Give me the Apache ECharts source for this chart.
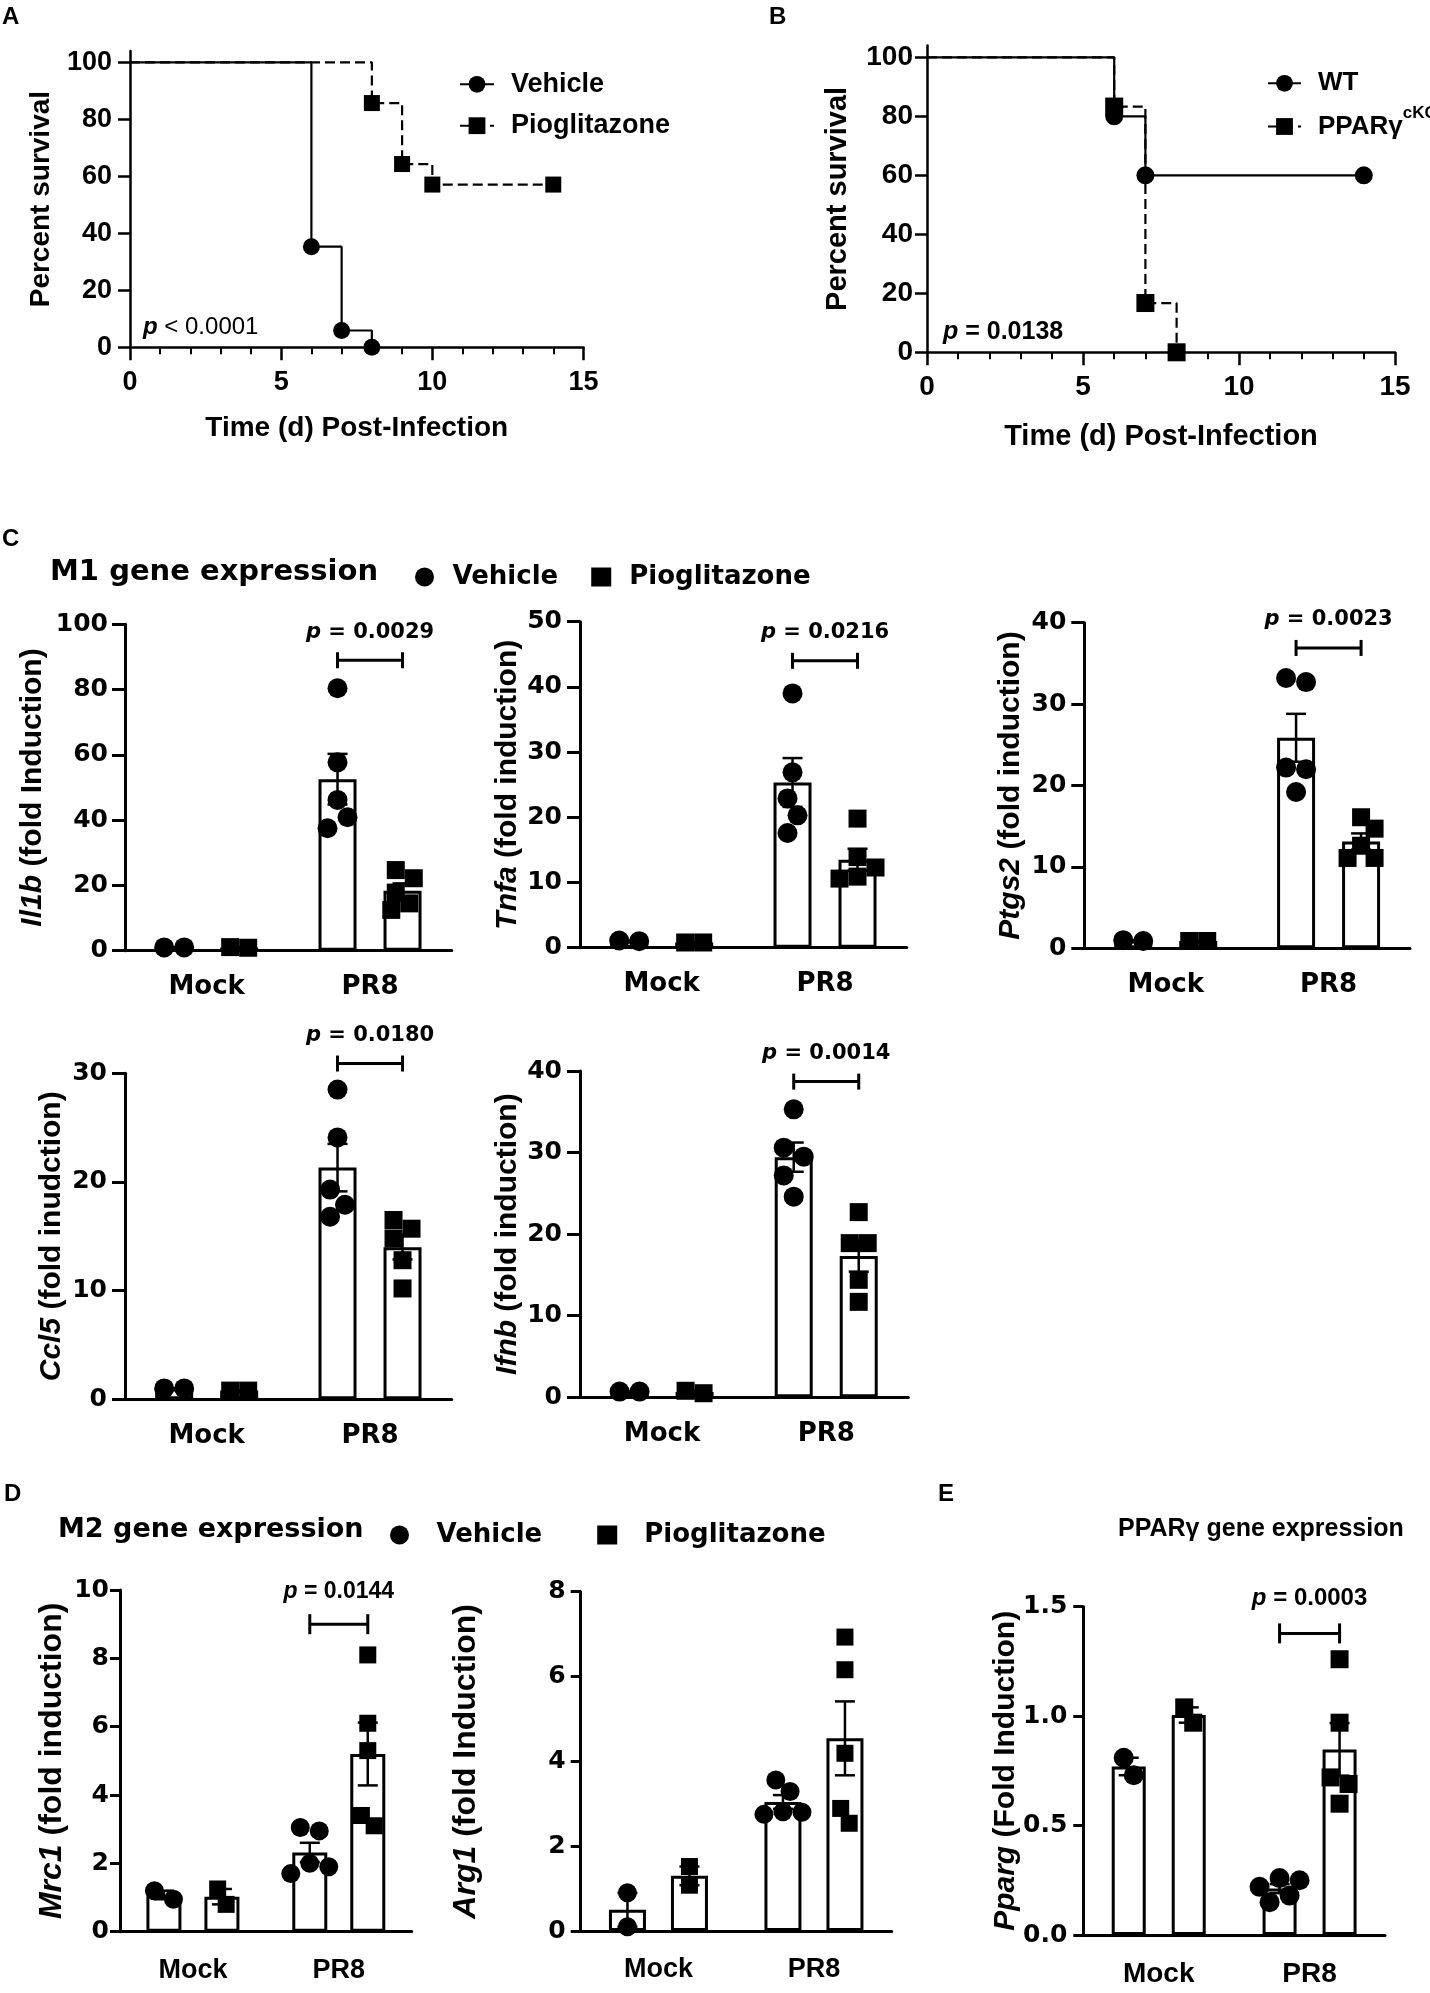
<!DOCTYPE html>
<html>
<head>
<meta charset="utf-8" />
<title>Pioglitazone / PPARγ figure</title>
<script src="https://cdn.jsdelivr.net/npm/echarts@6/dist/echarts.min.js"></script>
<style>
  html, body { margin: 0; padding: 0; background: #fff; }
  #main { width: 1430px; height: 1993px; }
</style>
</head>
<body>
<div id="main"></div>
<script>
// ---------- survival data (A, B) ----------
var vehDays = [0, 6, 7, 8];
var vehSurv = [100, 35.3, 5.9, 0];
var pioDays = [0, 8, 9, 10, 14];
var pioSurv = [100, 85.7, 64.3, 57.1, 57.1];
var wtDays = [0, 6, 7, 14];
var wtSurv = [100, 80, 60, 60];
var koDays = [0, 6, 7, 8];
var koSurv = [100, 83.3, 16.7, 0];
var survTicks = [0, 20, 40, 60, 80, 100];

// ---------- qPCR data (C, D, E), each = [Mock points, PR8 points] ----------
var groups = ['Mock', 'PR8'];
var il1bVeh = [[1.0, 1.0], [80.4, 57.7, 46.2, 40.9, 37.5]];
var il1bPio = [[0.9, 1.1], [24.7, 22.2, 17.8, 14.5, 12.5]];
var tnfaVeh = [[1.0, 1.1], [39.0, 26.9, 22.9, 20.3, 17.6]];
var tnfaPio = [[0.8, 0.8], [19.8, 13.9, 12.3, 10.9, 10.6]];
var ptgs2Veh = [[0.9, 1.0], [33.2, 32.7, 22.2, 22.0, 19.2]];
var ptgs2Pio = [[0.9, 0.9], [16.1, 14.7, 12.6, 11.1, 11.1]];
var ccl5Veh = [[1.0, 1.0], [28.5, 24.1, 19.3, 17.9, 16.8]];
var ccl5Pio = [[0.8, 0.8], [16.5, 15.7, 14.8, 12.8, 10.2]];
var ifnbVeh = [[0.7, 0.7], [35.3, 30.6, 29.5, 27.2, 24.6]];
var ifnbPio = [[0.5, 0.8], [22.7, 18.9, 18.9, 14.4, 11.7]];
var mrc1Veh = [[0.95, 1.2], [3.05, 2.95, 2.0, 1.9, 1.7]];
var mrc1Pio = [[0.8, 1.25], [8.1, 6.1, 5.3, 3.4, 3.1]];
var arg1Veh = [[0.9, 0.1], [3.56, 3.29, 2.81, 2.8, 2.75]];
var arg1Pio = [[1.08, 1.52], [6.93, 6.16, 4.19, 2.54, 2.89]];
var ppargVeh = [[0.73, 0.81], [0.26, 0.25, 0.22, 0.18, 0.15]];
var ppargPio = [[0.97, 1.04], [1.26, 0.97, 0.72, 0.69, 0.60]];
var pLabels = ['0.0029', '0.0216', '0.0023', '0.0180', '0.0014', '0.0144', null, '0.0003'];

var F_ARIAL = '"Liberation Sans", Arial, sans-serif';
var F_WIDE = '"DejaVu Sans", sans-serif';

function mean(a) { var s = 0; a.forEach(function (v) { s += v; }); return s / a.length; }
function sem(a) {
  var m = mean(a), s = 0;
  a.forEach(function (v) { s += (v - m) * (v - m); });
  return Math.sqrt(s / (a.length - 1)) / Math.sqrt(a.length);
}

// spread points of one bar sideways so they don't sit on top of each other
function swarm(ys, d, maxOff) {
  var n = ys.length, xs = [], done = [];
  var cands = [0];
  for (var s = d / 4; s <= maxOff + 0.01; s += d / 4) cands.push(s, -s);
  var order = ys.map(function (y, i) { return i; }).sort(function (a, b) { return ys[a] - ys[b]; });
  order.forEach(function (i) {
    var pick = 0, best = -1;
    for (var c = 0; c < cands.length; c++) {
      var md = Infinity;
      done.forEach(function (j) {
        var dx = cands[c] - xs[j], dy = ys[i] - ys[j];
        md = Math.min(md, Math.sqrt(dx * dx + dy * dy));
      });
      if (md >= 0.95 * d) { pick = cands[c]; break; }
      if (md > best) { best = md; pick = cands[c]; }
    }
    xs[i] = pick; done.push(i);
  });
  // centre every cluster of vertically touching points
  var seen = [];
  order.forEach(function (i) {
    if (seen[i]) return;
    var mem = [i], k = 0; seen[i] = true;
    while (k < mem.length) {
      var a = mem[k++];
      for (var j = 0; j < n; j++) {
        if (!seen[j] && Math.abs(ys[j] - ys[a]) < d) { seen[j] = true; mem.push(j); }
      }
    }
    var lo = Infinity, hi = -Infinity;
    mem.forEach(function (m) { lo = Math.min(lo, xs[m]); hi = Math.max(hi, xs[m]); });
    mem.forEach(function (m) { xs[m] -= (lo + hi) / 2; });
  });
  return xs;
}

var grids = [], xAxes = [], yAxes = [], series = [];
var black = '#000';

// ---------- survival panels ----------
function stepData(days, surv) {
  return days.map(function (d, i) {
    return i === 0 ? { value: [d, surv[i]], symbol: 'none' } : [d, surv[i]];
  });
}

function survivalPanel(c) {
  var idx = grids.length;
  grids.push({ left: c.box[0], top: c.box[1], width: c.box[2], height: c.box[3] });
  xAxes.push({
    type: 'value', gridIndex: idx, min: 0, max: 15, interval: 5,
    name: 'Time (d) Post-Infection', nameLocation: 'middle', nameGap: c.xNameGap, nameMoveOverlap: false,
    nameTextStyle: { fontFamily: F_ARIAL, fontWeight: 'bold', fontSize: c.xNameSize, color: black },
    axisLine: { lineStyle: { color: black, width: 2.5 } },
    axisTick: { length: 13, lineStyle: { color: black, width: 2.5 } },
    minorTick: { show: true, splitNumber: 5, length: 7, lineStyle: { color: black, width: 2 } },
    axisLabel: { margin: c.xMargin, fontFamily: F_ARIAL, fontWeight: 'bold', fontSize: c.tickSize, color: black },
    splitLine: { show: false }, minorSplitLine: { show: false }
  });
  yAxes.push({
    type: 'value', gridIndex: idx, min: 0, max: 104,
    name: 'Percent survival', nameLocation: 'middle', nameGap: c.yNameGap, nameMoveOverlap: false,
    nameTextStyle: { fontFamily: F_ARIAL, fontWeight: 'bold', fontSize: c.yNameSize, color: black },
    axisLine: { show: true, lineStyle: { color: black, width: 2.5 } },
    axisTick: { show: true, customValues: survTicks, length: 12, lineStyle: { color: black, width: 2.5 } },
    axisLabel: { customValues: survTicks, margin: c.yMargin, fontFamily: F_ARIAL, fontWeight: 'bold', fontSize: c.tickSize, color: black },
    splitLine: { show: false }
  });
  c.lines.forEach(function (l) {
    series.push({
      type: 'line', name: l.name, xAxisIndex: idx, yAxisIndex: idx, step: 'end',
      symbol: l.symbol, symbolSize: l.size, data: stepData(l.days, l.surv),
      lineStyle: { color: black, width: 2.2, type: l.dashed ? [10, 5] : 'solid' },
      itemStyle: { color: black }, z: l.z, silent: true
    });
  });
}

survivalPanel({
  box: [130, 50.9, 453.5, 296.4], xNameGap: 67, xNameSize: 28, xMargin: 22, yNameGap: 75, yNameSize: 28,
  yMargin: 18, tickSize: 27,
  lines: [
    { name: 'Vehicle', days: vehDays, surv: vehSurv, symbol: 'circle', size: 17, dashed: false, z: 3 },
    { name: 'Pioglitazone', days: pioDays, surv: pioSurv, symbol: 'rect', size: 16, dashed: true, z: 2 }
  ]
});
survivalPanel({
  box: [927, 45.5, 468, 306.8], xNameGap: 70, xNameSize: 29, xMargin: 21, yNameGap: 75, yNameSize: 29,
  yMargin: 14, tickSize: 28,
  lines: [
    { name: 'WT', days: wtDays, surv: wtSurv, symbol: 'circle', size: 18, dashed: false, z: 3 },
    { name: 'PPARγcKO', days: koDays, surv: koSurv, symbol: 'rect', size: 18, dashed: true, z: 2 }
  ]
});

// ---------- bar + dot panels ----------
var styleC = { tickFont: F_WIDE, tickSize: 25, tickLen: 13, catFont: F_WIDE, catSize: 26, catMargin: 24,
  nameSize: 30, pFont: F_WIDE, pSize: 21, pLift: 28, capH: 8, dot: 20, sq: 18 };
var styleD = { tickFont: F_WIDE, tickSize: 25, tickLen: 10, catFont: F_ARIAL, catSize: 27, catMargin: 25,
  nameSize: 32, pFont: F_ARIAL, pSize: 23, pLift: 33, capH: 10, dot: 19, sq: 17 };
var styleE = { tickFont: F_WIDE, tickSize: 25, tickLen: 10, catFont: F_ARIAL, catSize: 28, catMargin: 25,
  nameSize: 30, pFont: F_ARIAL, pSize: 24, pLift: 35, capH: 10, dot: 20, sq: 18 };

function lineEl(x1, y1, x2, y2, w) {
  return { type: 'line', shape: { x1: x1, y1: y1, x2: x2, y2: y2 }, style: { stroke: black, lineWidth: w } };
}

function barPanel(c, s) {
  var idx = grids.length;
  grids.push({ left: c.box[0], top: c.box[1], width: c.box[2], height: c.box[3] });
  xAxes.push({
    type: 'category', gridIndex: idx, data: groups,
    axisLine: { lineStyle: { color: black, width: 3 } },
    axisTick: { alignWithLabel: true, length: 14, lineStyle: { color: black, width: 3 } },
    axisLabel: { margin: s.catMargin, fontFamily: s.catFont, fontWeight: 'bold', fontSize: s.catSize, color: black },
    splitLine: { show: false }
  });
  var nameFont = { fontFamily: F_ARIAL, fontWeight: 'bold', fontSize: s.nameSize, color: black };
  yAxes.push({
    type: 'value', gridIndex: idx, min: 0, max: c.max, interval: c.step,
    name: '{i|' + c.gene + '}' + c.unit, nameLocation: 'middle', nameGap: c.nameGap, nameMoveOverlap: false,
    nameTextStyle: Object.assign({}, nameFont, { rich: { i: Object.assign({ fontStyle: 'italic' }, nameFont) } }),
    axisLine: { show: true, lineStyle: { color: black, width: 3 } },
    axisTick: { show: true, length: s.tickLen, lineStyle: { color: black, width: 3 } },
    axisLabel: { margin: c.labelMargin, fontFamily: s.tickFont, fontWeight: 'bold', fontSize: s.tickSize, color: black,
      formatter: c.step < 1 ? function (v) { return v.toFixed(1); } : '{value}' },
    splitLine: { show: false }
  });
  var gapPct = ((c.pitch - c.barW) / c.barW * 100) + '%';
  [[c.veh, -1, 'circle', s.dot], [c.pio, 1, 'rect', s.sq]].forEach(function (g) {
    var vals = g[0], side = g[1], shape = g[2], size = g[3];
    // bar = group mean
    series.push({
      type: 'bar', xAxisIndex: idx, yAxisIndex: idx, silent: true, z: 2,
      barWidth: c.barW, barGap: gapPct,
      data: vals.map(mean),
      itemStyle: { color: '#fff', borderColor: black, borderWidth: 3 }
    });
    // mean ± SEM
    series.push({
      type: 'custom', xAxisIndex: idx, yAxisIndex: idx, silent: true, z: 3,
      data: vals.map(function (v, i) { return [i, mean(v), sem(v)]; }),
      renderItem: function (params, api) {
        var ci = params.dataIndex, m = api.value(1), e = api.value(2);
        var x = api.coord([ci, m])[0] + side * c.pitch / 2;
        var yt = api.coord([ci, m + e])[1], yb = api.coord([ci, Math.max(m - e, 0)])[1];
        return { type: 'group', children: [
          lineEl(x, yt, x, yb, 2.5), lineEl(x - 10, yt, x + 10, yt, 2.5), lineEl(x - 10, yb, x + 10, yb, 2.5)
        ] };
      }
    });
    // individual points
    series.push({
      type: 'custom', xAxisIndex: idx, yAxisIndex: idx, silent: true, z: 4,
      data: vals.map(function (v, i) { return [i, mean(v)]; }),
      renderItem: function (params, api) {
        var ci = params.dataIndex, pts = vals[ci];
        var cx = api.coord([ci, 0])[0] + side * c.pitch / 2;
        var ys = pts.map(function (v) { return api.coord([ci, v])[1]; });
        var xs = swarm(ys, size, size);
        return { type: 'group', children: ys.map(function (y, k) {
          return shape === 'circle'
            ? { type: 'circle', shape: { cx: cx + xs[k], cy: y, r: size / 2 }, style: { fill: black } }
            : { type: 'rect', shape: { x: cx + xs[k] - size / 2, y: y - size / 2, width: size, height: size }, style: { fill: black } };
        }) };
      }
    });
  });
  if (c.p) {
    var pFont = { fontFamily: s.pFont, fontWeight: 'bold', fontSize: s.pSize, fill: black };
    series.push({
      type: 'custom', xAxisIndex: idx, yAxisIndex: idx, silent: true, z: 5,
      data: [[1, c.pY]],
      renderItem: function (params, api) {
        var pt = api.coord([api.value(0), api.value(1)]);
        var x1 = pt[0] - c.pitch / 2, x2 = pt[0] + c.pitch / 2, y = pt[1];
        return { type: 'group', children: [
          lineEl(x1, y, x2, y, 3), lineEl(x1, y - s.capH, x1, y + s.capH, 3), lineEl(x2, y - s.capH, x2, y + s.capH, 3),
          { type: 'text', x: pt[0], y: y - s.pLift, style: Object.assign({
            text: '{i|p} = ' + c.p, align: 'center', verticalAlign: 'middle',
            rich: { i: Object.assign({ fontStyle: 'italic' }, pFont) }
          }, pFont) }
        ] };
      }
    });
  }
}

barPanel({ gene: 'Il1b', unit: ' (fold Induction)', veh: il1bVeh, pio: il1bPio, p: pLabels[0], pY: 89,
  max: 100, step: 20, box: [125, 624.3, 326.7, 326.4], nameGap: 77, labelMargin: 17, barW: 38, pitch: 65 }, styleC);
barPanel({ gene: 'Tnfa', unit: ' (fold induction)', veh: tnfaVeh, pio: tnfaPio, p: pLabels[1], pY: 44,
  max: 50, step: 10, box: [580, 621.7, 326.7, 326], nameGap: 57, labelMargin: 18, barW: 38, pitch: 65 }, styleC);
barPanel({ gene: 'Ptgs2', unit: ' (fold induction)', veh: ptgs2Veh, pio: ptgs2Pio, p: pLabels[2], pY: 36.9,
  max: 40, step: 10, box: [1084.3, 622.7, 325.7, 325.6], nameGap: 59, labelMargin: 18, barW: 38, pitch: 65 }, styleC);
barPanel({ gene: 'Ccl5', unit: ' (fold inudction)', veh: ccl5Veh, pio: ccl5Pio, p: pLabels[3], pY: 30.9,
  max: 30, step: 10, box: [125, 1073.3, 326.7, 326], nameGap: 58, labelMargin: 18, barW: 38, pitch: 65 }, styleC);
barPanel({ gene: 'Ifnb', unit: ' (fold induction)', veh: ifnbVeh, pio: ifnbPio, p: pLabels[4], pY: 38.7,
  max: 40, step: 10, box: [580, 1071, 328.3, 326.3], nameGap: 57, labelMargin: 18, barW: 38, pitch: 65 }, styleC);
barPanel({ gene: 'Mrc1', unit: ' (fold induction)', veh: mrc1Veh, pio: mrc1Pio, p: pLabels[5], pY: 9.0,
  max: 10, step: 2, box: [120, 1590, 291.7, 341.7], nameGap: 52, labelMargin: 11, barW: 35, pitch: 58 }, styleD);
barPanel({ gene: 'Arg1', unit: ' (fold Induction)', veh: arg1Veh, pio: arg1Pio, p: pLabels[6], pY: 0,
  max: 8, step: 2, box: [580.7, 1591.7, 311, 339.3], nameGap: 99, labelMargin: 15, barW: 37, pitch: 62 }, styleD);
barPanel({ gene: 'Pparg', unit: ' (Fold Induction)', veh: ppargVeh, pio: ppargPio, p: pLabels[7], pY: 1.378,
  max: 1.5, step: 0.5, box: [1083.3, 1606.7, 301.7, 328.3], nameGap: 63, labelMargin: 16, barW: 34, pitch: 60 }, styleE);

// ---------- legends ----------
var dotLegendItems = [
  { name: 'Vehicle', icon: 'circle', itemStyle: { color: black, borderWidth: 0 } },
  { name: 'Pioglitazone', icon: 'rect', itemStyle: { color: black, borderWidth: 0 } }
];
var legends = [
  { left: 454, top: 65.8, orient: 'vertical', itemWidth: 34, itemHeight: 21, itemGap: 14.4, selectedMode: false,
    data: ['Vehicle', 'Pioglitazone'],
    textStyle: { fontFamily: F_ARIAL, fontWeight: 'bold', fontSize: 27, lineHeight: 27, color: black, padding: [0, 0, 0, 12] } },
  { left: 1262, top: 64.8, orient: 'vertical', itemWidth: 33, itemHeight: 21, itemGap: 8.2, selectedMode: false,
    data: ['WT', 'PPARγcKO'],
    formatter: function (n) { return n === 'WT' ? n : 'PPARγ{s|cKO}'; },
    textStyle: { fontFamily: F_ARIAL, fontWeight: 'bold', fontSize: 26, lineHeight: 27, color: black, padding: [0, 0, 0, 12],
      rich: { s: { fontFamily: F_ARIAL, fontWeight: 'bold', fontSize: 17, color: black, padding: [0, 0, 26, 0] } } } },
  { left: 410, top: 559, orient: 'horizontal', itemWidth: 20, itemHeight: 19, itemGap: 33, selectedMode: false,
    data: dotLegendItems,
    textStyle: { fontFamily: F_WIDE, fontWeight: 'bold', fontSize: 26, lineHeight: 26, color: black, padding: [0, 0, 0, 13] } },
  { left: 385, top: 1517, orient: 'horizontal', itemWidth: 20, itemHeight: 19, itemGap: 55, selectedMode: false,
    data: dotLegendItems,
    textStyle: { fontFamily: F_WIDE, fontWeight: 'bold', fontSize: 26, lineHeight: 26, color: black, padding: [0, 0, 0, 22] } }
];

// ---------- panel letters, headers, survival p values ----------
function label(text, x, y, font, size, weight, extra) {
  return { type: 'text', x: x, y: y, silent: true, style: Object.assign({
    text: text, fill: black, fontFamily: font, fontSize: size, fontWeight: weight, verticalAlign: 'middle'
  }, extra || {}) };
}
function pRich(size) {
  return { i: { fontStyle: 'italic', fontFamily: F_ARIAL, fontSize: size, fontWeight: 'bold', fill: black } };
}
var graphics = [
  label('A', 2, 17, F_ARIAL, 24, 'bold'),
  label('B', 769, 17, F_ARIAL, 24, 'bold'),
  label('C', 2, 539, F_ARIAL, 24, 'bold'),
  label('D', 4, 1494, F_ARIAL, 24, 'bold'),
  label('E', 938, 1494, F_ARIAL, 24, 'bold'),
  label('M1 gene expression', 50, 572, F_WIDE, 29, 'bold'),
  label('M2 gene expression', 58, 1530, F_WIDE, 27, 'bold'),
  label('PPARγ gene expression', 1118, 1529, F_ARIAL, 25, 'bold'),
  label('{i|p} < 0.0001', 143, 327, F_ARIAL, 24, 'normal', { rich: pRich(24) }),
  label('{i|p} = 0.0138', 943, 332, F_ARIAL, 25, 'bold', { rich: pRich(25) })
];

var chart = echarts.init(document.getElementById('main'));
chart.setOption({
  animation: false,
  backgroundColor: '#fff',
  color: [black],
  grid: grids,
  xAxis: xAxes,
  yAxis: yAxes,
  legend: legends,
  graphic: graphics,
  series: series
});
</script>
</body>
</html>
